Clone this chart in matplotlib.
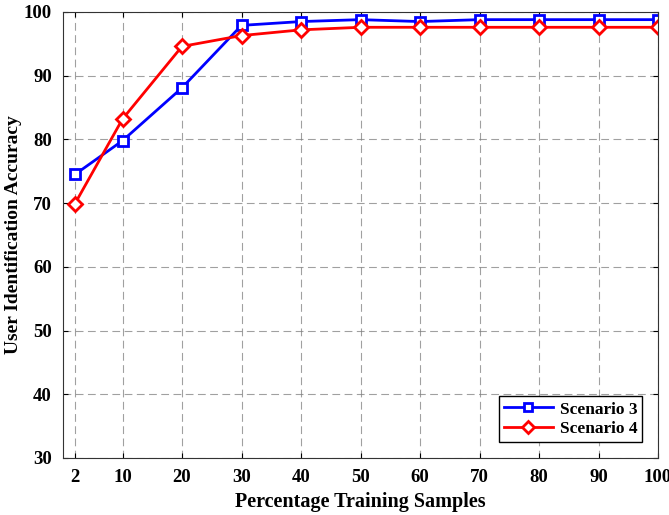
import numpy as np
import matplotlib.pyplot as plt

plt.rcParams['font.family'] = 'Liberation Serif'
plt.rcParams['font.weight'] = 'bold'

samples = [2, 10, 20, 30, 40, 50, 60, 70, 80, 90, 100]
scenario3 = [74.5, 79.8, 88.1, 97.9, 98.5, 98.8, 98.5, 98.8, 98.8, 98.8, 98.8]
scenario4 = [69.9, 83.2, 94.6, 96.3, 97.2, 97.6, 97.6, 97.6, 97.6, 97.6, 97.6]

fig = plt.figure(figsize=(6.69, 5.15), dpi=100)
ax = fig.add_axes([63/669, 1 - 458/515, (658 - 63)/669, (458 - 12)/515])

ax.plot(samples, scenario3, 'b-s', lw=2, ms=7, mfc='white', mew=2, label='Scenario 3')
ax.plot(samples, scenario4, 'r-D', lw=2, ms=7, mfc='white', mew=2, label='Scenario 4')

ax.set_xlim(0, 100)
ax.set_ylim(30, 100)
ax.set_xticks(samples)
ax.set_yticks(range(30, 101, 10))
ax.tick_params(direction='in', top=True, right=True, labelsize=13.5, pad=8)
ax.grid(True, ls=(0, (7, 4)), color='gray', lw=0.8, alpha=0.75)
for s in ax.spines.values():
    s.set_color('#333333')

ax.set_xlabel('Percentage Training Samples', fontsize=14.5, fontweight='bold')
ax.set_ylabel('User Identification Accuracy', fontsize=14, fontweight='bold', labelpad=1)
leg = ax.legend(loc='lower right', fontsize=12.5, fancybox=False, edgecolor='black',
                framealpha=1, handlelength=2.8, markerscale=0.85, labelspacing=0.2,
                borderpad=0.3, handletextpad=0.4, borderaxespad=0.9)
leg.get_frame().set_linewidth(1)

fig.savefig('out.png', dpi=100)
